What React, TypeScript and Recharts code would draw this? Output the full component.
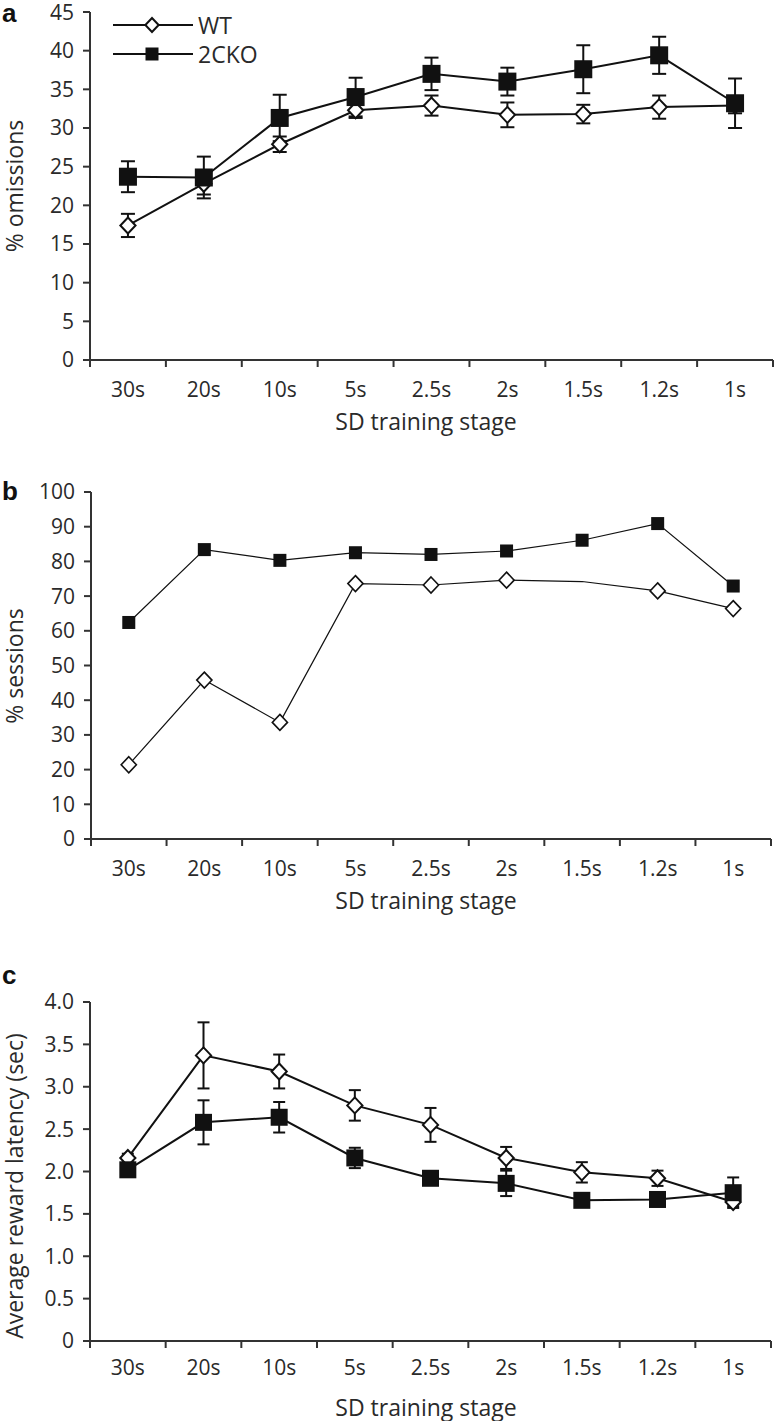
import React from 'react';
import { LineChart, Line, XAxis, YAxis, ErrorBar, Legend } from 'recharts';

// --- DATA ---
const stages = ['30s', '20s', '10s', '5s', '2.5s', '2s', '1.5s', '1.2s', '1s'];

// panel a: % omissions
const omissionsWt = [17.4, 22.8, 27.9, 32.3, 32.9, 31.7, 31.8, 32.7, 32.9];
const omissionsWtErr = [1.5, 1.4, 1.0, 1.0, 1.3, 1.6, 1.2, 1.5, 1.0];
const omissions2cko = [23.7, 23.6, 31.3, 34.0, 37.0, 36.0, 37.6, 39.4, 33.2];
const omissions2ckoErr = [2.0, 2.7, 3.0, 2.5, 2.1, 1.8, 3.1, 2.4, 3.2];
const omissionsTicks = [0, 5, 10, 15, 20, 25, 30, 35, 40, 45];

// panel b: % sessions (no marker drawn for WT at 1.5s)
const sessionsWt = [21.4, 45.8, 33.6, 73.6, 73.2, 74.6, 74.2, 71.5, 66.4];
const sessionsWtNoMarker = ['1.5s'];
const sessions2cko = [62.4, 83.4, 80.3, 82.5, 82.0, 83.0, 86.1, 90.9, 72.9];
const sessionsTicks = [0, 10, 20, 30, 40, 50, 60, 70, 80, 90, 100];

// panel c: average reward latency (sec)
const latencyWt = [2.16, 3.37, 3.18, 2.78, 2.55, 2.16, 1.99, 1.92, 1.64];
const latencyWtErr = [0.05, 0.39, 0.2, 0.18, 0.2, 0.13, 0.12, 0.09, 0.05];
const latency2cko = [2.02, 2.58, 2.64, 2.16, 1.92, 1.86, 1.66, 1.67, 1.75];
const latency2ckoErr = [0.05, 0.26, 0.18, 0.12, 0.06, 0.15, 0.05, 0.08, 0.18];
const latencyTicks = [0, 0.5, 1, 1.5, 2, 2.5, 3, 3.5, 4];

const legendItems = ['WT', '2CKO'];

// --- STYLE ---
const FONT = '"Open Sans", "Noto Sans", sans-serif';
const INK = '#111';
const TEXT = '#2a2a2a';
const xTicks = Array.from({ length: 19 }, (_, i) => i / 2);

const Diamond = ({ cx, cy, r, sw }: any) => (
  <path
    d={`M${cx},${cy - r}L${cx + r * 0.95},${cy}L${cx},${cy + r}L${cx - r * 0.95},${cy}Z`}
    fill="#fff"
    stroke={INK}
    strokeWidth={sw}
  />
);

const Square = ({ cx, cy, s }: any) => (
  <rect x={cx - s / 2} y={cy - s / 2} width={s} height={s} fill={INK} />
);

const makeXTick = (plotBottom: number, labelGap: number) => (props: any) => {
  const { x, payload } = props;
  const v = payload.value;
  if (Number.isInteger(v)) {
    return <line x1={x} x2={x} y1={plotBottom} y2={plotBottom + 7} stroke="#333" strokeWidth={2} />;
  }
  return (
    <text x={x} y={plotBottom + labelGap + 7} textAnchor="middle" fontSize={21} fill={TEXT} fontFamily={FONT}>
      {stages[Math.floor(v)]}
    </text>
  );
};

const xTitle = (cx: number, baseline: number) => () => (
  <text x={cx} y={baseline} textAnchor="middle" fontSize={23} fill={TEXT} fontFamily={FONT}>
    SD training stage
  </text>
);

const yTitle = (text: string, cy: number) => () => (
  <text
    x={14}
    y={cy}
    transform={`rotate(-90 14 ${cy})`}
    textAnchor="middle"
    dominantBaseline="central"
    fontSize={23}
    fill={TEXT}
    fontFamily={FONT}
  >
    {text}
  </text>
);

const LegendBox = () => (
  <div style={{ fontFamily: FONT, color: TEXT }}>
    {legendItems.map((name, i) => (
      <div key={name} style={{ display: 'flex', alignItems: 'center', height: 29 }}>
        <svg width={85} height={24}>
          <line x1={0} x2={80} y1={12} y2={12} stroke={INK} strokeWidth={2} />
          {i === 0 ? <Diamond cx={39} cy={12} r={7} sw={2} /> : <Square cx={39} cy={12} s={13} />}
        </svg>
        <span style={{ fontSize: 23, lineHeight: '24px' }}>{name}</span>
      </div>
    ))}
  </div>
);

const panelLetter = (letter: string, top: number) => (
  <div
    style={{
      position: 'absolute',
      left: 2,
      top,
      fontFamily: '"Liberation Sans", Arial, sans-serif',
      fontWeight: 'bold',
      fontSize: 26,
      lineHeight: '26px',
      color: INK,
    }}
  >
    {letter}
  </div>
);

const axisLine = { stroke: '#333', strokeWidth: 2 };
const tickStyle = { fontSize: 21, fill: TEXT, fontFamily: FONT };

const omissionsData = stages.map((s, i) => ({
  x: i + 0.5,
  stage: s,
  wt: omissionsWt[i],
  wtErr: omissionsWtErr[i],
  ko: omissions2cko[i],
  koErr: omissions2ckoErr[i],
}));

const sessionsData = stages.map((s, i) => ({
  x: i + 0.5,
  stage: s,
  wt: sessionsWt[i],
  ko: sessions2cko[i],
}));

const latencyData = stages.map((s, i) => ({
  x: i + 0.5,
  stage: s,
  wt: latencyWt[i],
  wtErr: latencyWtErr[i],
  ko: latency2cko[i],
  koErr: latency2ckoErr[i],
}));

export default function App() {
  return (
    <div style={{ position: 'absolute', left: 0, top: 0, width: 774, height: 1422, background: '#fff' }}>
      {panelLetter('a', 0)}
      {panelLetter('b', 478)}
      {panelLetter('c', 962)}

      {/* panel a */}
      <div style={{ position: 'absolute', left: 0, top: 0 }}>
        <LineChart width={774} height={440} data={omissionsData} margin={{ top: 12, right: 1, left: 0, bottom: 0 }}>
          <XAxis
            type="number"
            dataKey="x"
            domain={[0, 9]}
            ticks={xTicks}
            interval={0}
            height={80}
            axisLine={axisLine}
            tickLine={false}
            tick={makeXTick(360, 30)}
            label={xTitle(426, 430)}
          />
          <YAxis
            domain={[0, 45]}
            ticks={omissionsTicks}
            width={90}
            axisLine={axisLine}
            tickLine={{ stroke: '#333', strokeWidth: 2 }}
            tickSize={7}
            tickMargin={9}
            tick={tickStyle}
            label={yTitle('% omissions', 186)}
          />
          <Legend
            layout="horizontal"
            align="center"
            verticalAlign="middle"
            content={() => <LegendBox />}
            wrapperStyle={{ left: 113, top: 10, width: 220, height: 60 }}
          />
          <Line
            dataKey="wt"
            stroke={INK}
            strokeWidth={2}
            isAnimationActive={false}
            dot={(p: any) => <Diamond key={`aw-${p.index}`} cx={p.cx} cy={p.cy} r={8} sw={2} />}
          >
            <ErrorBar dataKey="wtErr" direction="y" width={7} stroke={INK} strokeWidth={2} />
          </Line>
          <Line
            dataKey="ko"
            stroke={INK}
            strokeWidth={2}
            isAnimationActive={false}
            dot={(p: any) => <Square key={`ak-${p.index}`} cx={p.cx} cy={p.cy} s={18} />}
          >
            <ErrorBar dataKey="koErr" direction="y" width={7} stroke={INK} strokeWidth={2} />
          </Line>
        </LineChart>
      </div>

      {/* panel b */}
      <div style={{ position: 'absolute', left: 0, top: 470 }}>
        <LineChart width={774} height={449} data={sessionsData} margin={{ top: 22, right: 3, left: 1, bottom: 0 }}>
          <XAxis
            type="number"
            dataKey="x"
            domain={[0, 9]}
            ticks={xTicks}
            interval={0}
            height={80}
            axisLine={axisLine}
            tickLine={false}
            tick={makeXTick(369, 30)}
            label={xTitle(426, 439)}
          />
          <YAxis
            domain={[0, 100]}
            ticks={sessionsTicks}
            width={90}
            axisLine={axisLine}
            tickLine={{ stroke: '#333', strokeWidth: 2 }}
            tickSize={7}
            tickMargin={9}
            tick={tickStyle}
            label={yTitle('% sessions', 196)}
          />
          <Line
            dataKey="wt"
            stroke={INK}
            strokeWidth={1.2}
            isAnimationActive={false}
            dot={(p: any) =>
              sessionsWtNoMarker.includes(p.payload.stage) ? (
                <g key={`bw-${p.index}`} />
              ) : (
                <Diamond key={`bw-${p.index}`} cx={p.cx} cy={p.cy} r={8} sw={1.6} />
              )
            }
          />
          <Line
            dataKey="ko"
            stroke={INK}
            strokeWidth={1.2}
            isAnimationActive={false}
            dot={(p: any) => <Square key={`bk-${p.index}`} cx={p.cx} cy={p.cy} s={13} />}
          />
        </LineChart>
      </div>

      {/* panel c */}
      <div style={{ position: 'absolute', left: 0, top: 960 }}>
        <LineChart width={774} height={461} data={latencyData} margin={{ top: 42, right: 3, left: 0, bottom: 0 }}>
          <XAxis
            type="number"
            dataKey="x"
            domain={[0, 9]}
            ticks={xTicks}
            interval={0}
            height={80}
            axisLine={axisLine}
            tickLine={false}
            tick={makeXTick(381, 27)}
            label={xTitle(426, 456)}
          />
          <YAxis
            domain={[0, 4]}
            ticks={latencyTicks}
            width={90}
            axisLine={axisLine}
            tickLine={{ stroke: '#333', strokeWidth: 2 }}
            tickSize={7}
            tickMargin={9}
            tick={tickStyle}
            tickFormatter={(v: number) => (v === 0 ? '0' : v.toFixed(1))}
            label={yTitle('Average reward latency (sec)', 226)}
          />
          <Line
            dataKey="wt"
            stroke={INK}
            strokeWidth={2}
            isAnimationActive={false}
            dot={(p: any) => <Diamond key={`cw-${p.index}`} cx={p.cx} cy={p.cy} r={8} sw={2} />}
          >
            <ErrorBar dataKey="wtErr" direction="y" width={6} stroke={INK} strokeWidth={2} />
          </Line>
          <Line
            dataKey="ko"
            stroke={INK}
            strokeWidth={2}
            isAnimationActive={false}
            dot={(p: any) => <Square key={`ck-${p.index}`} cx={p.cx} cy={p.cy} s={17} />}
          >
            <ErrorBar dataKey="koErr" direction="y" width={6} stroke={INK} strokeWidth={2} />
          </Line>
        </LineChart>
      </div>
    </div>
  );
}
